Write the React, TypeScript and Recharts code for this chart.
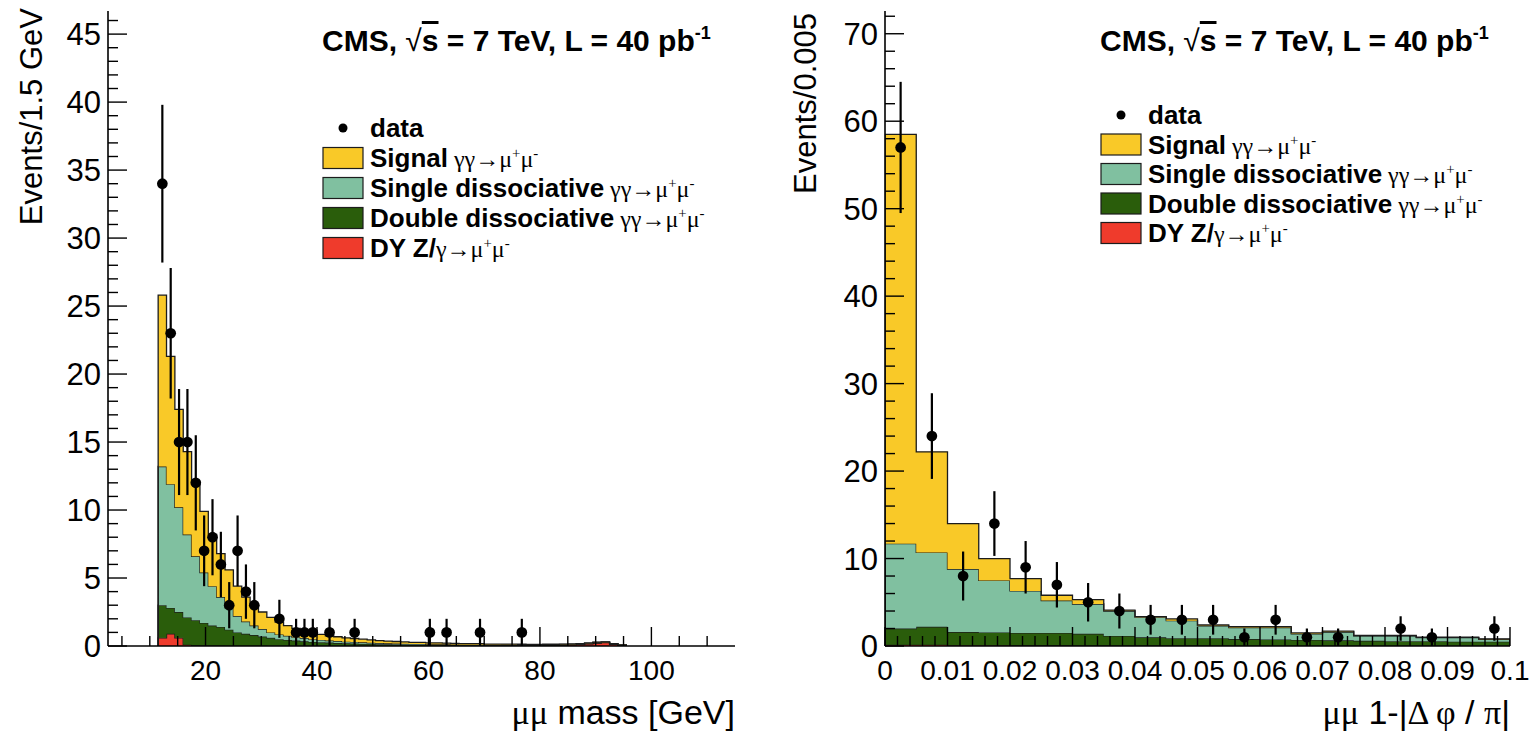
import React from "react";
import { ComposedChart, Area, Scatter, ErrorBar, XAxis, YAxis, ZAxis } from "recharts";

// ---- dimuon mass, 1.5 GeV bins starting at 11.5 GeV ----
const MASS_LO = 11.5;
const MASS_W = 1.5;
const massSignal = [
  12.6, 9.4, 7.2, 6.1, 5.3, 4.5, 3.8, 3.2, 2.8, 2.2,
  1.8, 1.5, 1.25, 1.1, 0.9, 0.75, 0.65, 0.52, 0.45, 0.4,
  0.35, 0.32, 0.28, 0.25, 0.23, 0.21, 0.18, 0.16, 0.15, 0.14,
  0.12, 0.11, 0.1, 0.1, 0.09, 0.08, 0.08, 0.07, 0.07, 0.06,
  0.06, 0.05, 0.05, 0.05, 0.04, 0.04, 0.04, 0.03, 0.03, 0.03,
  0.03, 0.03, 0.02, 0.02, 0.02, 0.02,
];
const massSingle = [
  10.2, 9.1, 7.7, 6.1, 4.7, 3.7, 2.9, 2.2, 1.6, 1.2,
  0.9, 0.7, 0.55, 0.4, 0.35, 0.3, 0.25, 0.23, 0.2, 0.17,
  0.15, 0.14, 0.12, 0.12, 0.11, 0.09, 0.09, 0.08, 0.07, 0.06,
  0.06, 0.06, 0.05, 0.05, 0.05, 0.04, 0.04, 0.04, 0.04, 0.03,
  0.03, 0.03, 0.03, 0.03, 0.02, 0.02, 0.02, 0.02, 0.02, 0.02,
  0.02, 0.02, 0.02, 0.01, 0.01, 0.01,
];
const massDouble = [
  2.4, 1.9, 1.9, 2.0, 1.85, 1.66, 1.47, 1.37, 1.18, 0.98,
  0.88, 0.78, 0.68, 0.59, 0.49, 0.44, 0.39, 0.34, 0.29, 0.27,
  0.24, 0.21, 0.19, 0.17, 0.15, 0.14, 0.12, 0.11, 0.1, 0.09,
  0.08, 0.08, 0.07, 0.07, 0.06, 0.06, 0.05, 0.05, 0.05, 0.04,
  0.04, 0.04, 0.04, 0.03, 0.03, 0.03, 0.03, 0.03, 0.03, 0.02,
  0.02, 0.02, 0.02, 0.02, 0.02, 0.02,
];
const massDY = [
  0.6, 0.9, 0.6, 0.1, 0.05, 0.04, 0.03, 0.03, 0.02, 0.02,
  0.02, 0.02, 0.02, 0.01, 0.01, 0.01, 0.01, 0.01, 0.01, 0.01,
  0.01, 0.01, 0.01, 0.01, 0.01, 0.01, 0.01, 0.01, 0.01, 0.01,
  0.01, 0.01, 0.01, 0.01, 0.01, 0.01, 0.01, 0.01, 0.01, 0.01,
  0.01, 0.02, 0.02, 0.02, 0.03, 0.03, 0.04, 0.05, 0.06, 0.08,
  0.1, 0.15, 0.22, 0.25, 0.12, 0.04,
];
const massDataX = [
  12.25, 13.75, 15.25, 16.75, 18.25, 19.75, 21.25, 22.75, 24.25, 25.75, 27.25,
  28.75, 33.25, 36.25, 37.75, 39.25, 42.25, 46.75, 60.25, 63.25, 69.25, 76.75,
];
const massDataY = [34, 23, 15, 15, 12, 7, 8, 6, 3, 7, 4, 3, 2, 1, 1, 1, 1, 1, 1, 1, 1, 1];
const massDataErr = [5.8, 4.8, 3.9, 3.9, 3.5, 2.6, 2.8, 2.4, 1.7, 2.6, 2, 1.7, 1.4, 1, 1, 1, 1, 1, 1, 1, 1, 1];
const massXMajor = [20, 40, 60, 80, 100];
const massYMajor = [0, 5, 10, 15, 20, 25, 30, 35, 40, 45];

// ---- acoplanarity, 0.005 bins from 0 to 0.1 ----
const ACO_LO = 0;
const ACO_W = 0.005;
const acoSignal = [46.8, 11.5, 5.2, 2.5, 1.4, 0.6, 0.5, 0.1, 0.05, 0.2, 0.1, 0.1, 0.1, 0.1, 0.1, 0.05, 0.05, 0.05, 0.05, 0.05];
const acoSingle = [9.7, 8.5, 7.2, 5.95, 4.8, 3.7, 3.4, 2.85, 2.3, 2.0, 1.4, 1.3, 1.35, 0.7, 0.95, 0.55, 0.6, 0.4, 0.45, 0.25];
const acoDouble = [1.85, 2.05, 1.5, 1.45, 1.42, 1.42, 1.34, 1.09, 0.95, 0.85, 0.85, 0.76, 0.71, 0.66, 0.62, 0.57, 0.52, 0.52, 0.48, 0.48];
const acoDY = [0.15, 0.15, 0.1, 0.1, 0.08, 0.08, 0.06, 0.06, 0.05, 0.05, 0.05, 0.04, 0.04, 0.04, 0.03, 0.03, 0.03, 0.03, 0.02, 0.02];
const acoDataX = [
  0.0025, 0.0075, 0.0125, 0.0175, 0.0225, 0.0275, 0.0325, 0.0375, 0.0425,
  0.0475, 0.0525, 0.0575, 0.0625, 0.0675, 0.0725, 0.0825, 0.0875, 0.0975,
];
const acoDataY = [57, 24, 8, 14, 9, 7, 5, 4, 3, 3, 3, 1, 3, 1, 1, 2, 1, 2];
const acoDataErr = [7.5, 4.9, 2.8, 3.7, 3, 2.6, 2.2, 2, 1.7, 1.7, 1.7, 1, 1.7, 1, 1, 1.4, 1, 1.4];
const acoXMajor = [0, 0.01, 0.02, 0.03, 0.04, 0.05, 0.06, 0.07, 0.08, 0.09, 0.1];
const acoYMajor = [0, 10, 20, 30, 40, 50, 60, 70];

const SANS = "'Liberation Sans', Arial, Helvetica, sans-serif";
const SERIF = "'Liberation Serif', 'Times New Roman', serif";
const COLORS = { sig: "#f9c928", sd: "#80c0a0", dd: "#2a5d0b", dy: "#ef3b2c" };
const OUTLINE = "#1c1c1c";
const AXIS_LINE = { stroke: "#000", strokeWidth: 1.6 };
const MAJOR_LEN = 19;
const MINOR_LEN = 10;

// minor ticks between majors (axis decoration only)
const minorTicks = (lo: number, hi: number, step: number, majors: number[]) => {
  const out: number[] = [];
  const n = Math.round((hi - lo) / step);
  for (let i = 0; i <= n; i++) {
    const v = Number((lo + i * step).toFixed(4));
    if (!majors.some((m) => Math.abs(m - v) < 1e-9)) out.push(v);
  }
  return out;
};

const histRows = (lo: number, w: number, sig: number[], sd: number[], dd: number[], dy: number[]) => {
  const rows = [{ x: lo, sig: 0, sd: 0, dd: 0, dy: 0 }];
  sig.forEach((_, i) => rows.push({ x: lo + i * w, sig: sig[i], sd: sd[i], dd: dd[i], dy: dy[i] }));
  const n = sig.length - 1;
  rows.push({ x: lo + (n + 1) * w, sig: sig[n], sd: sd[n], dd: dd[n], dy: dy[n] });
  rows.push({ x: lo + (n + 1) * w, sig: 0, sd: 0, dd: 0, dy: 0 });
  return rows;
};

const points = (xs: number[], ys: number[], errs: number[]) =>
  xs.map((x, i) => ({ x, y: ys[i], err: errs[i] }));

const fmtTick = (v: number) => String(Number(v.toFixed(3)));

type Side = "bottom" | "top" | "left" | "right";

const tickFn = (side: Side, majors: number[], showLabel: boolean) => (props: any) => {
  const { x, y, payload } = props;
  const v = payload.value as number;
  const major = majors.some((m) => Math.abs(m - v) < 1e-9);
  const len = major ? MAJOR_LEN : MINOR_LEN;
  let line;
  if (side === "bottom") line = <line x1={x} y1={y} x2={x} y2={y - len} />;
  else if (side === "top") line = <line x1={x} y1={y} x2={x} y2={y + len} />;
  else if (side === "left") line = <line x1={x} y1={y} x2={x + len} y2={y} />;
  else line = <line x1={x} y1={y} x2={x - len} y2={y} />;
  let label = null;
  if (showLabel && major) {
    if (side === "bottom")
      label = (
        <text x={x} y={y + 34} textAnchor="middle" fontSize={28} fontFamily={SANS} fill="#000">
          {fmtTick(v)}
        </text>
      );
    else if (side === "left")
      label = (
        <text x={x - 7} y={y + 11} textAnchor="end" fontSize={31} fontFamily={SANS} fill="#000">
          {fmtTick(v)}
        </text>
      );
  }
  return (
    <g>
      <g stroke="#000" strokeWidth={1.4}>{line}</g>
      {label}
    </g>
  );
};

interface PanelProps {
  rows: ReturnType<typeof histRows>;
  pts: { x: number; y: number; err: number }[];
  xDomain: [number, number];
  yDomain: [number, number];
  xTicks: number[];
  xMajor: number[];
  yTicks: number[];
  yMajor: number[];
  margin: { top: number; right: number; bottom: number; left: number };
}

const Panel = ({ rows, pts, xDomain, yDomain, xTicks, xMajor, yTicks, yMajor, margin }: PanelProps) => (
  <ComposedChart width={769} height={733} data={rows} margin={margin}>
    <XAxis
      xAxisId="b" dataKey="x" type="number" domain={xDomain} allowDataOverflow
      ticks={xTicks} interval={0} tickSize={0} tickMargin={0} tickLine={false}
      axisLine={AXIS_LINE} tick={tickFn("bottom", xMajor, true)} height={50}
    />
    <XAxis
      xAxisId="t" orientation="top" type="number" domain={xDomain} allowDataOverflow
      ticks={xTicks} interval={0} tickSize={0} tickMargin={0} tickLine={false}
      axisLine={AXIS_LINE} tick={tickFn("top", xMajor, false)} height={0}
    />
    <YAxis
      yAxisId="l" type="number" domain={yDomain} allowDataOverflow
      ticks={yTicks} interval={0} tickSize={0} tickMargin={0} tickLine={false}
      axisLine={AXIS_LINE} tick={tickFn("left", yMajor, true)} width={60}
    />
    <YAxis
      yAxisId="r" orientation="right" type="number" domain={yDomain} allowDataOverflow
      ticks={yTicks} interval={0} tickSize={0} tickMargin={0} tickLine={false}
      axisLine={AXIS_LINE} tick={tickFn("right", yMajor, false)} width={0}
    />
    <ZAxis range={[90, 90]} />
    <Area xAxisId="b" yAxisId="l" type="stepAfter" dataKey="dy" stackId="mc" fill={COLORS.dy} fillOpacity={1} stroke={OUTLINE} strokeWidth={1.3} isAnimationActive={false} />
    <Area xAxisId="b" yAxisId="l" type="stepAfter" dataKey="dd" stackId="mc" fill={COLORS.dd} fillOpacity={1} stroke={OUTLINE} strokeWidth={1.3} isAnimationActive={false} />
    <Area xAxisId="b" yAxisId="l" type="stepAfter" dataKey="sd" stackId="mc" fill={COLORS.sd} fillOpacity={1} stroke={OUTLINE} strokeWidth={1.3} isAnimationActive={false} />
    <Area xAxisId="b" yAxisId="l" type="stepAfter" dataKey="sig" stackId="mc" fill={COLORS.sig} fillOpacity={1} stroke={OUTLINE} strokeWidth={1.3} isAnimationActive={false} />
    <Scatter xAxisId="b" yAxisId="l" data={pts} dataKey="y" fill="#000" shape="circle" isAnimationActive={false}>
      <ErrorBar dataKey="err" direction="y" width={0} stroke="#000" strokeWidth={2.2} />
    </Scatter>
  </ComposedChart>
);

// "γγ→μ+μ-" set in a serif face like ROOT's symbol font
const Process = ({ size, lead }: { size: number; lead: string }) => (
  <tspan fontFamily={SERIF} fontWeight="normal" fontSize={size}>
    {lead}
    <tspan dy={-9} fontSize={size * 0.62}>+</tspan>
    <tspan dy={9}>μ</tspan>
    <tspan dy={-9} fontSize={size * 0.62}>-</tspan>
  </tspan>
);

const LEGEND = [
  { key: "data", name: "data" },
  { key: "sig", name: "Signal" },
  { key: "sd", name: "Single dissociative" },
  { key: "dd", name: "Double dissociative" },
  { key: "dy", name: "DY Z/" },
];

const LegendBlock = ({ x, y0, step, headerY }: { x: number; y0: number; step: number; headerY: number }) => (
  <g fontFamily={SANS}>
    <text x={x - 1} y={headerY} fontSize={30} fontWeight="bold" fill="#000">
      {"CMS, "}
      <tspan fontWeight="normal">{"√"}</tspan>
      <tspan style={{ textDecoration: "overline" }}>s</tspan>
      {" = 7 TeV, L = 40 pb"}
      <tspan dy={-12} fontSize={18}>-1</tspan>
    </text>
    {LEGEND.map((it, i) => {
      const cy = y0 + i * step;
      return (
        <g key={it.key}>
          {it.key === "data" ? (
            <circle cx={x + 20} cy={cy} r={4.5} fill="#000" />
          ) : (
            <rect x={x} y={cy - 10.5} width={40} height={21} fill={(COLORS as any)[it.key]} stroke={OUTLINE} strokeWidth={1.2} />
          )}
          <text x={x + 47} y={cy + 9} fontSize={26} fontWeight="bold" fill="#000">
            {it.name}
            {it.key === "dy" && <Process size={24} lead="γ→μ" />}
            {(it.key === "sig" || it.key === "sd" || it.key === "dd") && <Process size={24} lead=" γγ→μ" />}
          </text>
        </g>
      );
    })}
  </g>
);

const massRows = histRows(MASS_LO, MASS_W, massSignal, massSingle, massDouble, massDY);
const acoRows = histRows(ACO_LO, ACO_W, acoSignal, acoSingle, acoDouble, acoDY);
const massPts = points(massDataX, massDataY, massDataErr);
const acoPts = points(acoDataX, acoDataY, acoDataErr);

const massXTicks = [...massXMajor, ...minorTicks(5, 110, 5, massXMajor)];
const massYTicks = [...massYMajor, ...minorTicks(1, 46, 1, massYMajor)];
const acoXTicks = [...acoXMajor, ...minorTicks(0, 0.1, 0.002, acoXMajor)];
const acoYTicks = [...acoYMajor, ...minorTicks(2, 72, 2, acoYMajor)];

export default function App() {
  return (
    <div style={{ position: "absolute", left: 0, top: 0, width: 1538, height: 733, background: "#fff", overflow: "hidden" }}>
      <div style={{ position: "absolute", left: 0, top: 0 }}>
        <Panel
          rows={massRows} pts={massPts} xDomain={[2.5, 115]} yDomain={[0, 46.7]}
          xTicks={massXTicks} xMajor={massXMajor} yTicks={massYTicks} yMajor={massYMajor}
          margin={{ top: 11, right: 34, bottom: 37, left: 48 }}
        />
      </div>
      <div style={{ position: "absolute", left: 769, top: 0 }}>
        <Panel
          rows={acoRows} pts={acoPts} xDomain={[0, 0.1]} yDomain={[0, 72.6]}
          xTicks={acoXTicks} xMajor={acoXMajor} yTicks={acoYTicks} yMajor={acoYMajor}
          margin={{ top: 11, right: 28, bottom: 37, left: 56 }}
        />
      </div>
      <svg width={1538} height={733} style={{ position: "absolute", left: 0, top: 0, pointerEvents: "none" }}>
        <LegendBlock x={323} y0={128} step={30} headerY={51} />
        <LegendBlock x={1101} y0={115} step={29.5} headerY={51} />
        <g fontFamily={SANS} fontSize={31} fill="#000">
          <text transform="translate(42,8) rotate(-90)" textAnchor="end">Events/1.5 GeV</text>
          <text transform="translate(816,13) rotate(-90)" textAnchor="end">Events/0.005</text>
          <text x={735} y={724} textAnchor="end" fontSize={34}>
            <tspan fontFamily={SERIF}>μμ</tspan> mass [GeV]
          </text>
          <text x={1510} y={724} textAnchor="end" fontSize={34}>
            <tspan fontFamily={SERIF}>μμ</tspan> 1-|<tspan fontFamily={SERIF}>Δ φ</tspan> / <tspan fontFamily={SERIF}>π</tspan>|
          </text>
        </g>
      </svg>
    </div>
  );
}
